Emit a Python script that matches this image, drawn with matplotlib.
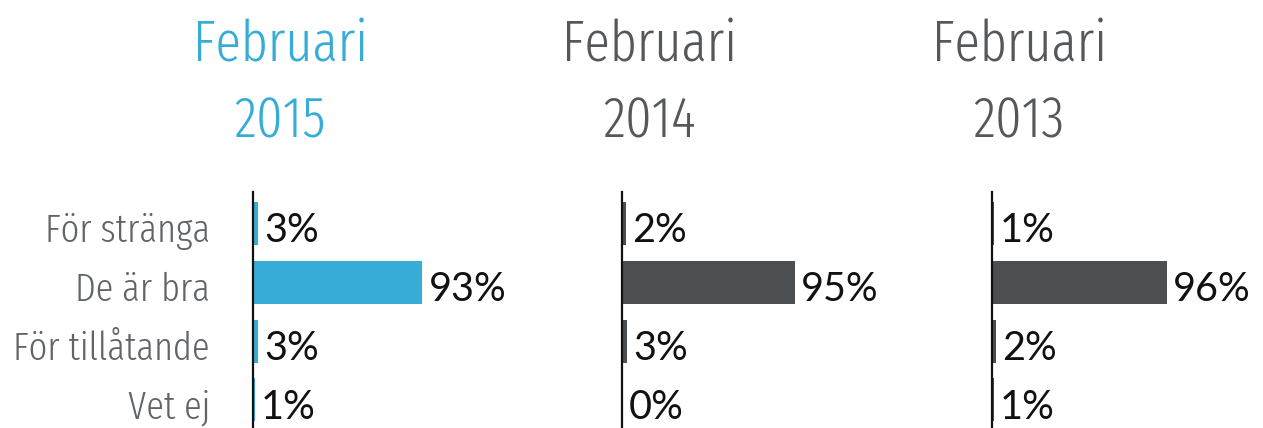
import matplotlib
matplotlib.use("Agg")
import matplotlib.pyplot as plt

# data
categories = ["För stränga", "De är bra", "För tillåtande", "Vet ej"]
years = ["2015", "2014", "2013"]
values_2015 = [3, 93, 3, 1]
values_2014 = [2, 95, 3, 0]
values_2013 = [1, 96, 2, 1]
series = [values_2015, values_2014, values_2013]

BLUE = "#36acd6"
DARK = "#4b4f51"
bar_colors = [BLUE, DARK, DARK]
title_colors = [BLUE, "#55585b", "#55585b"]

# condensed light face for titles / categories, geometric face for numbers;
# matplotlib falls through the list if a family is missing
narrow = ["Fira Sans Extra Condensed", "DejaVu Sans"]
numfont = ["Lato", "DejaVu Sans"]

W, H = 1263, 428
fig = plt.figure(figsize=(W / 100, H / 100), dpi=100)

axis_px = [253, 622, 992]   # x position of each panel's baseline
px_per_pct = 1.82
top_px, bottom_px = 192, 428

for i, (vals, x0) in enumerate(zip(series, axis_px)):
    ax = fig.add_axes([x0 / W, 1 - bottom_px / H,
                       100 * px_per_pct / W, (bottom_px - top_px) / H])
    ypos = list(range(len(categories)))
    ax.barh(ypos, vals, height=0.73, color=bar_colors[i], zorder=1)
    ax.set_xlim(0, 100)
    ax.set_ylim(3.48, -0.54)
    for s in ["top", "right", "bottom"]:
        ax.spines[s].set_visible(False)
    ax.spines["left"].set_linewidth(1.6)
    ax.spines["left"].set_color("#111111")
    ax.spines["left"].set_zorder(3)
    ax.set_xticks([])
    ax.set_yticks([])
    ax.patch.set_alpha(0)

    for y, v in zip(ypos, vals):
        ax.annotate(f"{v}%", xy=(v, y), xytext=(4.5, -13.5), textcoords="offset points",
                    ha="left", va="baseline", fontsize=28.5, color="#111111",
                    family=numfont)

    if i == 0:
        for y, c in zip(ypos, categories):
            ax.annotate(c, xy=(0, y), xytext=(-31, -13.5), textcoords="offset points",
                        ha="right", va="baseline", fontsize=28.5, fontweight=300,
                        color="#606468", family=narrow)

    # panel title
    cx = x0 + 27
    fig.text(cx / W, 1 - 62 / H, "Februari", ha="center", va="baseline",
             fontsize=41, fontweight=300, color=title_colors[i], family=narrow)
    fig.text(cx / W, 1 - 137 / H, years[i], ha="center", va="baseline",
             fontsize=41, fontweight=300, color=title_colors[i], family=narrow)

fig.savefig("out.png", dpi=100, facecolor="white")
